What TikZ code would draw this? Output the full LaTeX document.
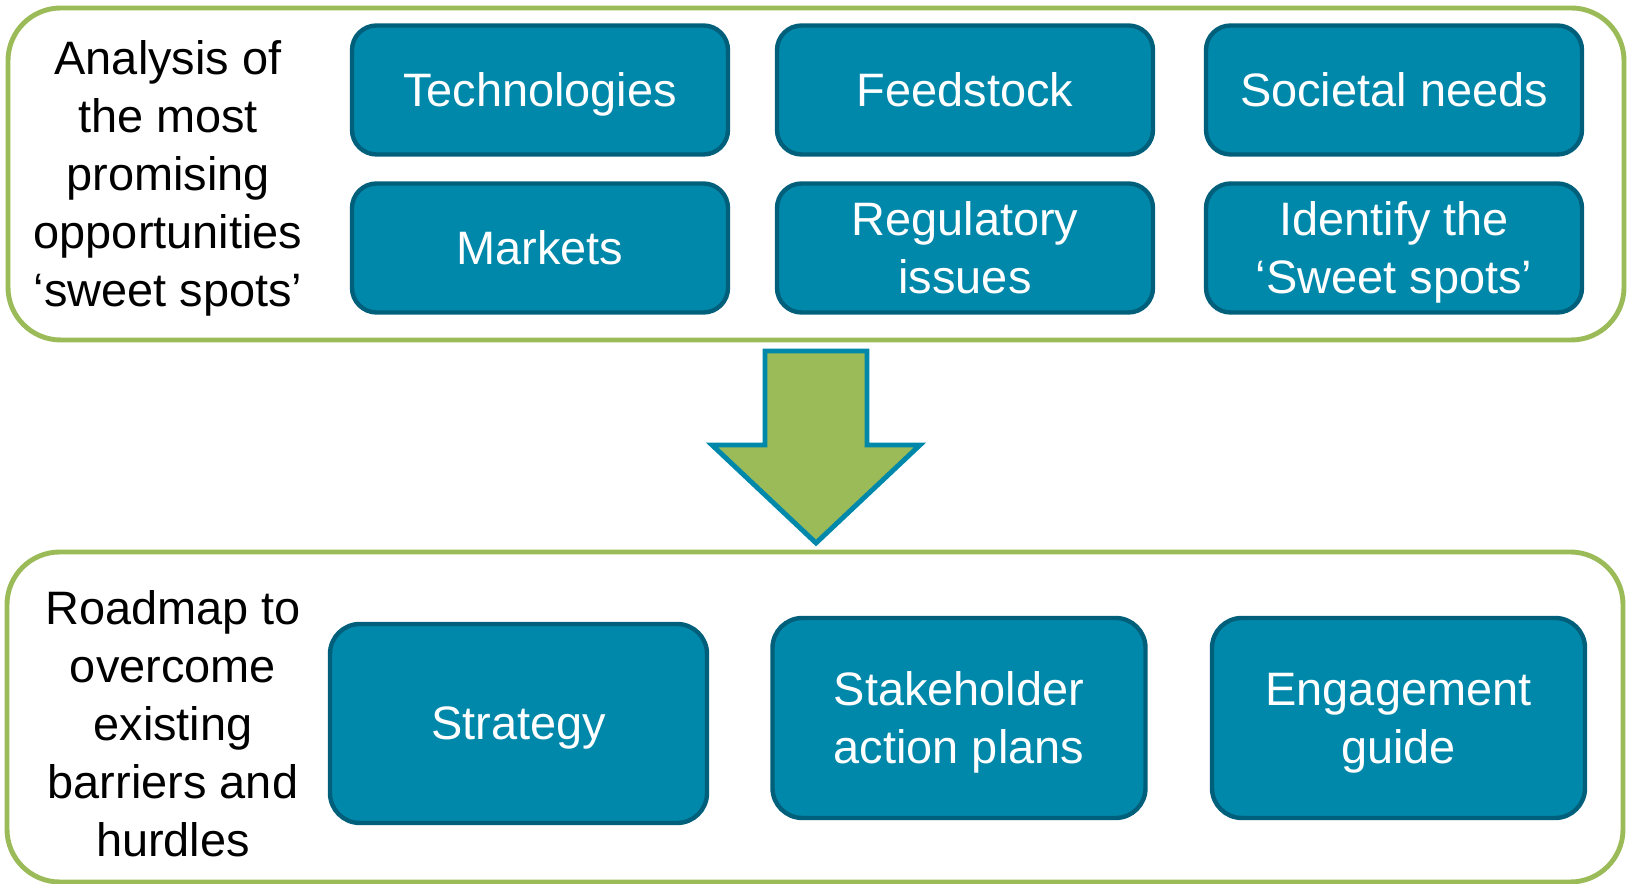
\documentclass[tikz,border=0pt]{standalone}
\usepackage{fontspec}
\setmainfont{Liberation Sans}
\usepackage{tikz}
\usetikzlibrary{positioning}
\definecolor{boxfill}{RGB}{0,136,170}
\definecolor{boxline}{RGB}{0,95,122}
\definecolor{framegreen}{RGB}{155,187,89}
\newcommand{\diagfont}{\fontsize{26.7}{33}\selectfont}

\begin{document}
\begin{tikzpicture}[
	box/.style={draw=boxline, fill=boxfill, line width=2.5pt, rounded corners=14pt, text=white, minimum width=7.52cm, minimum height=2.58cm, inner sep=2pt, text depth=0pt, align=center, font=\diagfont},
	tallbox/.style={box, rounded corners=17pt, minimum width=7.46cm, minimum height=3.98cm},
	frame/.style={draw=framegreen, line width=2.8pt, rounded corners=30pt, inner sep=0, minimum width=32.32cm},
	caption/.style={align=center, font=\diagfont, inner sep=0}
]
\useasboundingbox (0,0) rectangle (32.54,17.68);

% outer frames
\node[frame, minimum height=6.64cm] (upper) at (16.32,14.2) {};
\node[frame, minimum height=6.60cm] (lower) at (16.30,3.34) {};

% top part
\node[caption] (analysis) at (3.36,14.11) {Analysis of\\the most\\promising\\opportunities\\‘sweet spots’};
\node[box] (tech)  at (10.80,15.88) {Technologies};
\node[box] (feed)  at (19.30,15.88) {Feedstock};
\node[box] (soc)   at (27.88,15.88) {Societal needs};
\node[box] (mark)  at (10.80,12.72) {Markets};
\node[box] (reg)   at (19.30,12.72) {Regulatory\\issues};
\node[box] (sweet) at (27.88,12.72) {Identify the\\‘Sweet spots’};

% arrow between the frames
\draw[draw=boxfill, fill=framegreen, line width=2.8pt, line join=miter]
	(15.30,10.66) -- (17.34,10.66) -- (17.34,8.78) -- (18.40,8.78)
	-- (16.32,6.82) -- (14.24,8.78) -- (15.30,8.78) -- cycle;

% bottom part
\node[caption] (roadmap) at (3.46,3.21) {Roadmap to\\overcome\\existing\\barriers and\\hurdles};
\node[tallbox, minimum width=7.54cm] (strat)  at (10.37,3.21) {Strategy};
\node[tallbox, minimum height=4.0cm] (stake)  at (19.18,3.32) {Stakeholder\\action plans};
\node[tallbox, minimum height=4.0cm] (engage) at (27.97,3.32) {Engagement\\guide};
\end{tikzpicture}
\end{document}
